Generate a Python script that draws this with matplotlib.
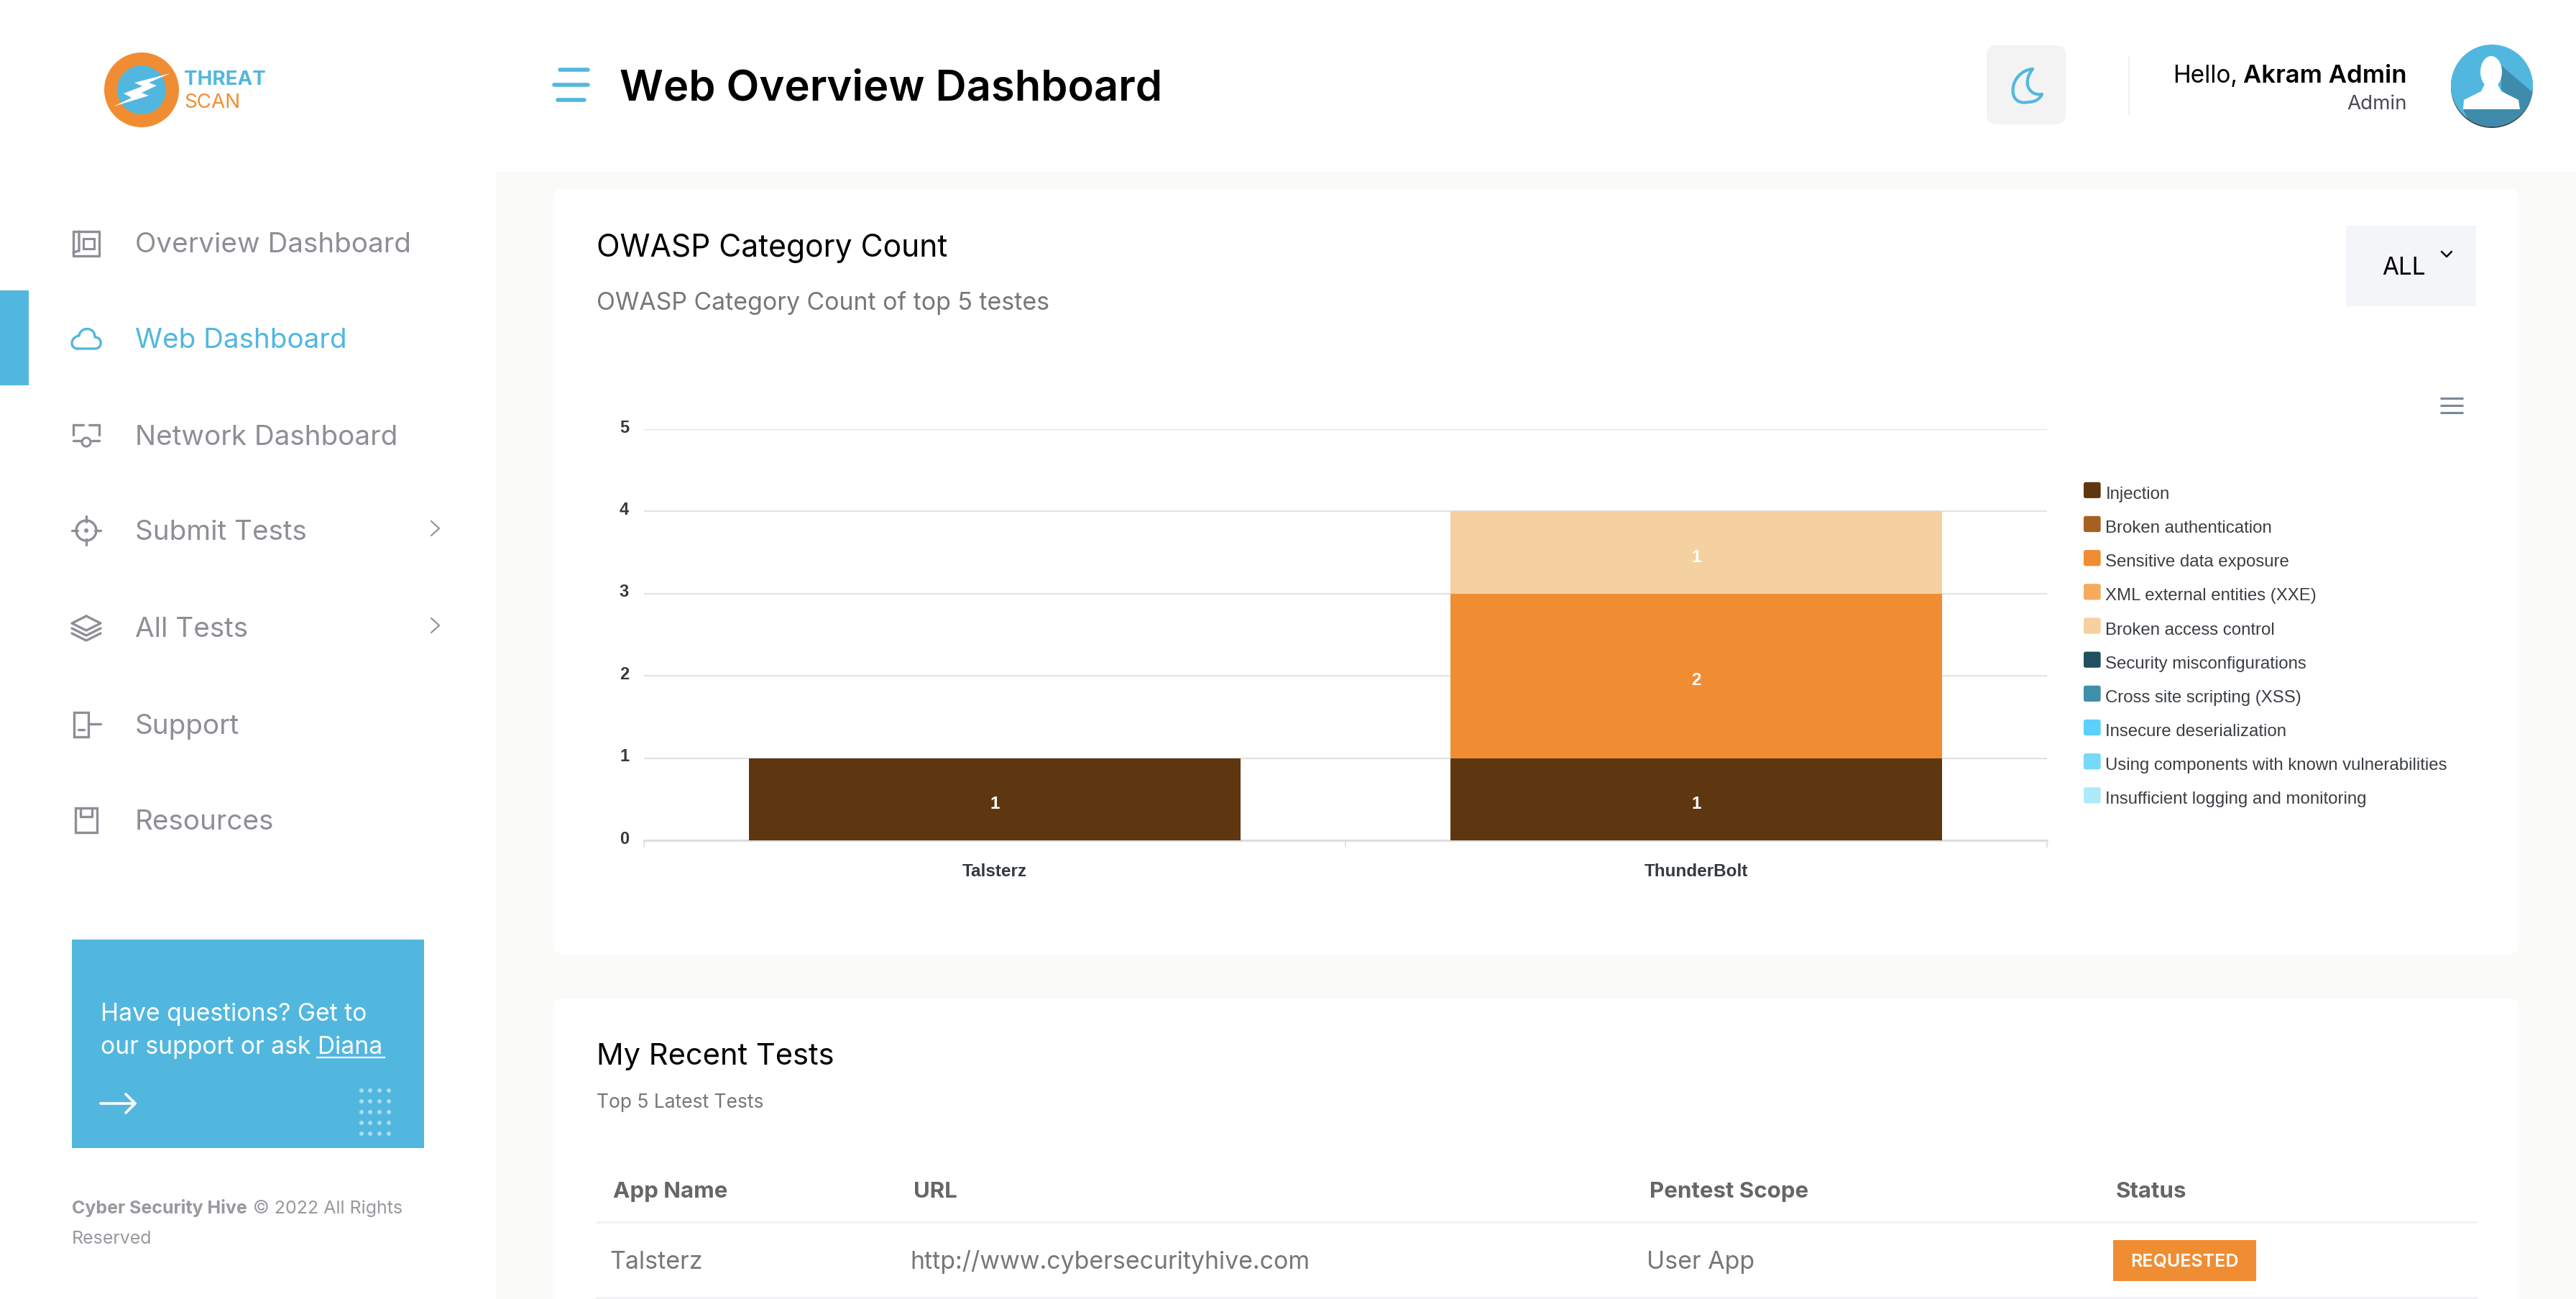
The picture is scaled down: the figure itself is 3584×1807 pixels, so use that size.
import matplotlib
matplotlib.use("Agg")
import matplotlib.pyplot as plt
from matplotlib.patches import Circle, Ellipse, FancyBboxPatch, Patch, PathPatch, Polygon, Rectangle
from matplotlib.path import Path
from matplotlib.legend_handler import HandlerPatch
from matplotlib.transforms import ScaledTranslation

UI_FONT = "Inter"
CHART_FONT = "Liberation Sans"
BLUE = "#52b7df"
ORANGE = "#f08d33"
GREY = "#8e8e96"

# chart data
apps = ["Talsterz", "ThunderBolt"]
y_ticks = [0, 1, 2, 3, 4, 5]
categories = [
    "Injection", "Broken authentication", "Sensitive data exposure",
    "XML external entities (XXE)", "Broken access control",
    "Security misconfigurations", "Cross site scripting (XSS)",
    "Insecure deserialization", "Using components with known vulnerabilities",
    "Insufficient logging and monitoring",
]
counts_talsterz = [1, 0, 0, 0, 0, 0, 0, 0, 0, 0]
counts_thunderbolt = [1, 0, 2, 0, 1, 0, 0, 0, 0, 0]
colors = ["#5e3710", "#a66020", "#f08d33", "#f4ac5c", "#f5d0a0",
          "#20505f", "#3f8fab", "#5cd0fc", "#74daf8", "#aeeafa"]

# page text
menu_items = ["Overview Dashboard", "Web Dashboard", "Network Dashboard",
              "Submit Tests", "All Tests", "Support", "Resources"]
menu_y = [338, 471, 606, 738, 873, 1008, 1141]
table_heads = ["App Name", "URL", "Pentest Scope", "Status"]
table_head_x = [853, 1271, 2295, 2944]
table_row = ["Talsterz", "http://www.cybersecurityhive.com", "User App"]
table_row_x = [848, 1266, 2291]

fig = plt.figure(figsize=(35.84, 18.08), dpi=100, facecolor="white")

# whole page in pixel coordinates
bg = fig.add_axes([0, 0, 1, 1], zorder=0)
bg.set_xlim(0, 3584)
bg.set_ylim(1808, 0)
bg.axis("off")


def label(x, y, s, size, color="black", weight="normal", ha="left", family=UI_FONT):
    return bg.text(x, y + 3, s, fontsize=size, color=color, fontweight=weight, ha=ha,
                   va="center", family=family)


def card(x0, y0, x1, y1, color="white", r=12):
    bg.add_patch(FancyBboxPatch((x0 + r, y0 + r), x1 - x0 - 2 * r, y1 - y0 - 2 * r,
                                boxstyle=f"round,pad={r},rounding_size={r}", fc=color, ec="none"))


def stroke(verts, codes=None, color=GREY, lw=2.4):
    if codes is None:
        codes = [Path.MOVETO] + [Path.LINETO] * (len(verts) - 1)
    bg.add_patch(PathPatch(Path(verts, codes), fc="none", ec=color, lw=lw,
                           capstyle="round", joinstyle="round"))


# page background and cards
bg.add_patch(Rectangle((690, 240), 2894, 1568, fc="#fafaf9", ec="none"))
card(770, 265, 3504, 1328)
card(770, 1390, 3504, 1850)

# logo
bg.add_patch(Circle((197, 126), 52, fc=ORANGE, ec="none"))
bg.add_patch(Circle((197, 126), 34, fc=BLUE, ec="none"))
bg.add_patch(Polygon([(237, 103), (187, 116), (198, 121), (172, 131), (183, 137), (158, 149),
                      (207, 134), (197, 130), (218, 120), (207, 116)], fc="white", ec="none"))
label(256, 108, "THREAT", 20, BLUE, "bold")
label(256, 140, "SCAN", 20, ORANGE)

# header
for x0, x1, y in [(779, 818, 98), (771, 818, 119), (776, 813, 140)]:
    bg.plot([x0, x1], [y, y], color=BLUE, lw=4, solid_capstyle="round")
label(862, 121, "Web Overview Dashboard", 43, "black", "semibold")
card(2764, 64, 2874, 174, "#f3f3f3", 14)
C4 = Path.CURVE4
stroke([(2828, 97), (2795, 100), (2790, 150), (2822, 143), (2835, 143), (2840, 135), (2841, 132),
        (2825, 135), (2812, 118), (2828, 97)],
       [Path.MOVETO, C4, C4, C4, C4, C4, C4, C4, C4, C4], BLUE, 3)
bg.plot([2962, 2962], [80, 160], color="#f0f0f0", lw=1.5)
label(3113, 103, "Hello,", 24, "black", ha="right")
label(3349, 103, "Akram Admin", 25, "black", "semibold", ha="right")
label(3349, 142, "Admin", 20, "#4a4a55", ha="right")

# avatar
bg.add_patch(Circle((3467, 122), 57, fc="#444444", ec="none"))
avatar = Circle((3467, 120), 57, fc=BLUE, ec="none")
bg.add_patch(avatar)
shade = Polygon([(3480, 92), (3530, 135), (3530, 180), (3440, 180), (3427, 153), (3506, 153), (3480, 125)],
                fc="#3f8bab", ec="none")
bg.add_patch(shade)
shade.set_clip_path(avatar)
bg.add_patch(Polygon([(3427, 153), (3428, 140), (3452, 128), (3457, 118), (3475, 118), (3480, 128),
                      (3504, 140), (3506, 153)], fc="white", ec="none"))
bg.add_patch(Ellipse((3466, 101), 30, 44, fc="white", ec="none"))

# sidebar
bg.add_patch(Rectangle((0, 405), 40, 132, fc=BLUE, ec="none"))
for i, (item, y) in enumerate(zip(menu_items, menu_y)):
    label(188, y, item, 27.8, BLUE if i == 1 else GREY)
# menu icons
stroke([(102, 323), (138, 323), (138, 357), (102, 357), (102, 323)])
stroke([(110, 323), (110, 350), (102, 352)])
bg.add_patch(Rectangle((116, 333), 15, 14, fc="none", ec=GREY, lw=2.2))
stroke([(108, 486), (132, 486), (143, 486), (143, 470), (132, 470), (132, 455), (112, 455), (110, 468),
        (97, 470), (97, 486), (108, 486)],
       [Path.MOVETO, Path.LINETO, C4, C4, C4, C4, C4, C4, C4, C4, C4], BLUE)
stroke([(102, 592), (116, 592)])
stroke([(124, 592), (138, 592)])
stroke([(102, 592), (102, 606)])
stroke([(138, 592), (138, 606)])
stroke([(102, 614), (112, 614)])
stroke([(128, 614), (138, 614)])
bg.add_patch(Circle((120, 616), 6, fc="none", ec=GREY, lw=2.2))
bg.add_patch(Circle((120, 739), 14, fc="none", ec=GREY, lw=2.4))
bg.add_patch(Circle((120, 739), 3, fc=GREY, ec="none"))
for a, b, c, d in [(120, 719, 120, 727), (120, 751, 120, 759), (100, 739, 108, 739), (132, 739, 140, 739)]:
    stroke([(a, b), (c, d)])
stroke([(120, 858), (140, 868), (120, 878), (100, 868), (120, 858)])
stroke([(100, 875), (120, 885), (140, 875)])
stroke([(100, 882), (120, 892), (140, 882)])
bg.add_patch(Rectangle((103, 992), 20, 34, fc="none", ec=GREY, lw=2.4))
stroke([(123, 1008), (140, 1008)])
stroke([(109, 1016), (117, 1016)])
bg.add_patch(Rectangle((105, 1125), 30, 34, fc="none", ec=GREY, lw=2.4))
stroke([(112, 1125), (112, 1137), (128, 1137), (128, 1125)])
for y in [736, 871]:
    stroke([(600, y - 10), (611, y), (600, y + 10)], lw=1.5)

# support box
bg.add_patch(Rectangle((100, 1308), 490, 290, fc=BLUE, ec="none"))
label(140, 1408, "Have questions? Get to", 24.2, "white")
label(140, 1454, "our support or ask Diana", 24.2, "white")
bg.plot([441, 535], [1472, 1472], color="white", lw=1.6)
stroke([(140, 1536), (188, 1536)], color="white", lw=2.6)
stroke([(175, 1523), (188, 1536), (175, 1549)], color="white", lw=2.6)
for dot_x in [503, 515, 528, 541]:
    for dot_y in [1518, 1533, 1548, 1563, 1578]:
        bg.add_patch(Circle((dot_x, dot_y), 3, fc="#a9dcef", ec="none"))

# footer
label(100, 1678, "Cyber Security Hive", 18, "#98989e", "bold")
label(352, 1678, "\u00a9 2022 All Rights", 18, "#98989e")
label(100, 1721, "Reserved", 18, "#98989e")

# first card headings
label(830, 343, "OWASP Category Count", 30.7, "black")
label(830, 418, "OWASP Category Count of top 5 testes", 24.4, "#777777")
bg.add_patch(Rectangle((3264, 315), 181, 112, fc="#f3f5f9", ec="none"))
label(3344, 370, "ALL", 24, "black", ha="center")
stroke([(3397, 351), (3404, 358), (3411, 351)], color="black", lw=1.8)
for y in [555, 565, 575]:
    bg.plot([3395, 3427], [y, y], color="#7a8799", lw=2.2, solid_capstyle="butt")

# recent tests card
label(830, 1467, "My Recent Tests", 30, "black")
label(830, 1531, "Top 5 Latest Tests", 19, "#777777")
for name, x in zip(table_heads, table_head_x):
    label(x, 1655, name, 22.5, "#666666", "bold")
for y in [1701, 1806]:
    bg.plot([830, 3445], [y, y], color="#f0f0f4", lw=1.8)
for name, x in zip(table_row, table_row_x):
    label(x, 1753, name, 24.4, "#777777")
bg.add_patch(Rectangle((2940, 1726), 199, 57, fc=ORANGE, ec="none"))
label(3039, 1752, "REQUESTED", 18, "white", "semibold", ha="center")

# the chart itself
ax = fig.add_axes([896 / 3584, 1 - 1170 / 1808, (2848 - 896) / 3584, (1170 - 598) / 1808], zorder=1)
ax.patch.set_alpha(0)
ax.set_xlim(-0.5, 1.5)
ax.set_ylim(0, 5)
bottoms = [0, 0]
handles = []
for name, color, a, b in zip(categories, colors, counts_talsterz, counts_thunderbolt):
    ax.bar([0, 1], [a, b], width=0.7, bottom=bottoms, color=color, label=name, zorder=3)
    for x, v, base in zip([0, 1], [a, b], bottoms):
        if v:
            ax.annotate(str(v), (x, base + v / 2), xytext=(0, -4), textcoords="offset points",
                        ha="center", va="center", color="white", fontsize=17.5,
                        fontweight="bold", family=CHART_FONT, zorder=4)
    bottoms = [bottoms[0] + a, bottoms[1] + b]
    handles.append(Patch(fc=color, label=name))

ax.set_yticks(y_ticks)
ax.set_xticks([-0.5, 0.5, 1.5])
ax.set_xticklabels([])
ax.set_xticks([0, 1], apps, minor=True)
ax.grid(axis="y", color="#e3e3e3", lw=1.6, zorder=0)
for side in ["top", "right", "left"]:
    ax.spines[side].set_visible(False)
ax.spines["bottom"].set_color("#dcdcdc")
ax.spines["bottom"].set_linewidth(2)
ax.tick_params(axis="x", which="major", length=7, width=1.2, color="#dcdcdc")
ax.tick_params(axis="x", which="minor", length=0, pad=22, labelsize=17.5, labelcolor="#343a40")
ax.tick_params(axis="y", length=0, pad=15, labelsize=17, labelcolor="#343a40")
for t in ax.get_xminorticklabels() + ax.get_yticklabels():
    t.set_family(CHART_FONT)
    t.set_fontweight("bold")
for t in ax.get_yticklabels():
    t.set_verticalalignment("center")
    t.set_transform(t.get_transform() + ScaledTranslation(0, 3 / 100, fig.dpi_scale_trans))


def rounded_swatch(legend, orig_handle, xdescent, ydescent, width, height, fontsize):
    return FancyBboxPatch((1.5, 0.5), width - 3, height - 1, boxstyle="round,pad=0.5,rounding_size=2")


fig.legend(handles=handles, loc="upper left", bbox_to_anchor=(2876 / 3584, 1 - 653 / 1808),
           frameon=False, labelcolor="#3a3f44", labelspacing=0.95,
           handlelength=1.1, handleheight=1.05, handletextpad=0.22,
           prop={"family": CHART_FONT, "size": 17.3},
           handler_map={Patch: HandlerPatch(patch_func=rounded_swatch)})

fig.savefig("out.png", dpi=100)
